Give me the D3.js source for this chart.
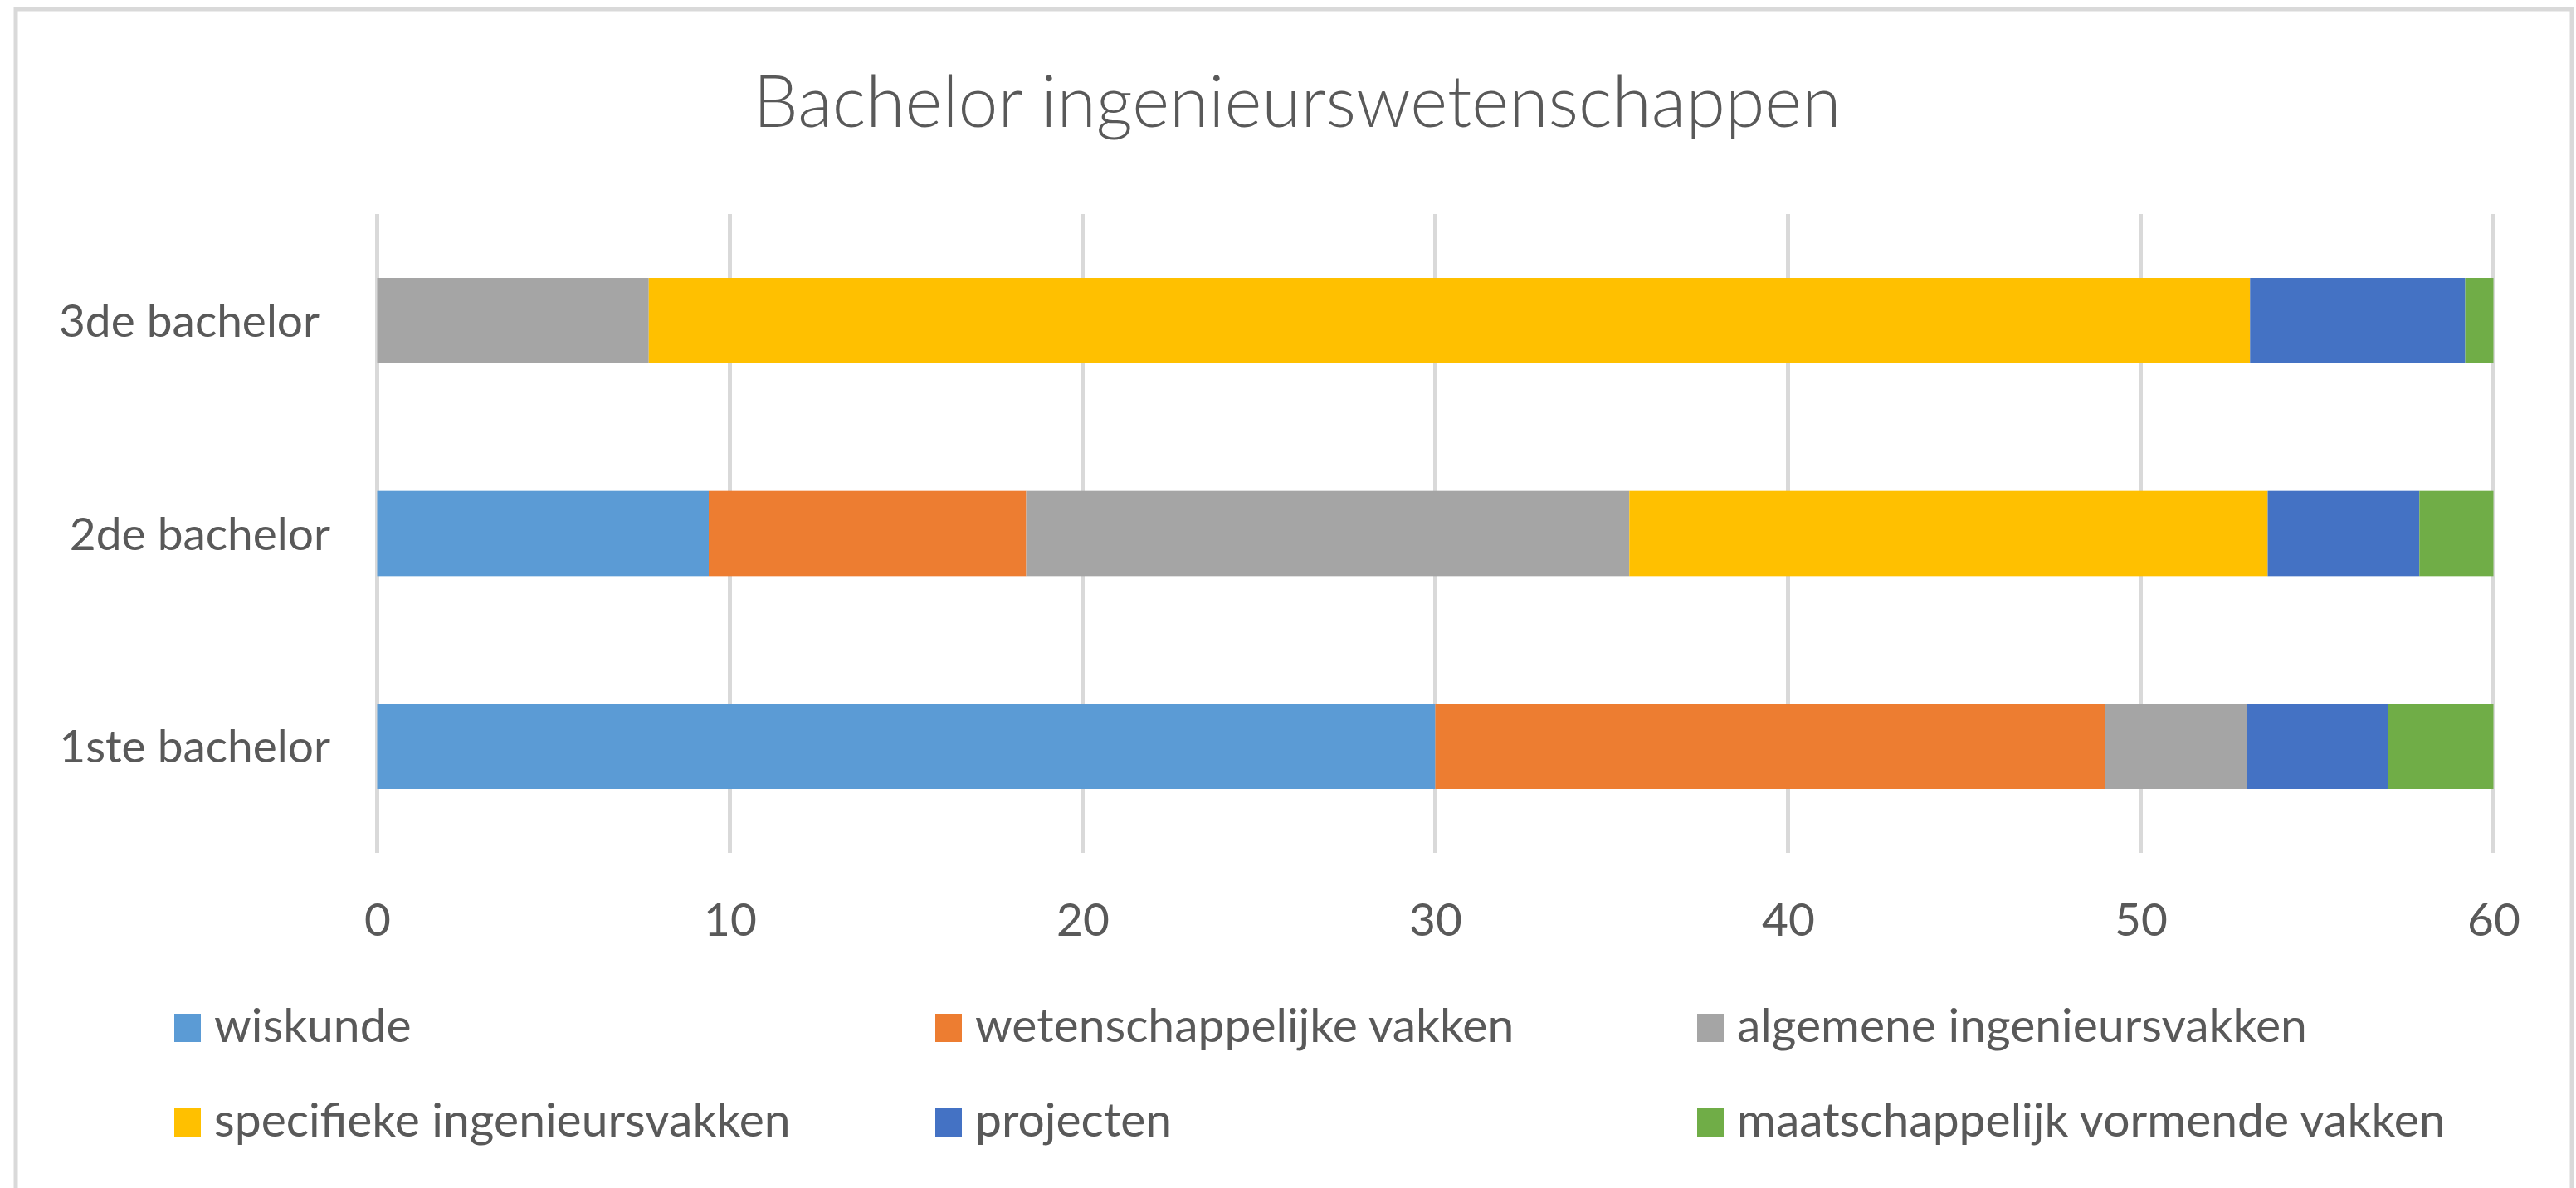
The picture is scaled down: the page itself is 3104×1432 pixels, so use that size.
<!DOCTYPE html>
<html>
<head>
<meta charset="utf-8">
<script src="https://cdn.jsdelivr.net/npm/d3@7"></script>
<style>
  body { margin: 0; background: #fff; }
  svg { display: block; }
  text { font-family: Lato, "Open Sans", sans-serif; fill: #595959; }
</style>
</head>
<body>
<script>
// categories, bottom to top as in the chart
const categories = ['1ste bachelor', '2de bachelor', '3de bachelor '];
const subjects = ['wiskunde', 'wetenschappelijke vakken', 'algemene ingenieursvakken',
                  'specifieke ingenieursvakken', 'projecten', 'maatschappelijk vormende vakken'];
const colors = ['#5B9BD5', '#ED7D31', '#A5A5A5', '#FFC000', '#4472C4', '#70AD47'];

// values per subject, one per category (1ste, 2de, 3de)
const wiskunde = [30, 9.4, 0];
const wetenschappelijk = [19, 9.0, 0];
const algemeen = [4, 17.1, 7.7];
const specifiek = [0, 18.1, 45.4];
const projecten = [4, 4.3, 6.1];
const maatschappelijk = [3, 2.1, 0.8];
const xTicks = [0, 10, 20, 30, 40, 50, 60];

const seriesValues = [wiskunde, wetenschappelijk, algemeen, specifiek, projecten, maatschappelijk];
const rows = categories.map((c, i) => {
    const r = {cat: c};
    subjects.forEach((s, j) => r[s] = seriesValues[j][i]);
    return r;
});

const width = 3104, height = 1432;
const svg = d3.select('body').append('svg')
    .attr('width', width)
    .attr('height', height);

// chart border
svg.append('rect')
    .attr('x', 19).attr('y', 11)
    .attr('width', 3080).attr('height', 1500)
    .attr('fill', 'none')
    .attr('stroke', '#d9d9d9')
    .attr('stroke-width', 5);

svg.append('text')
    .attr('x', 1563).attr('y', 153)
    .attr('text-anchor', 'middle')
    .style('font-size', '86px')
    .style('font-weight', 300)
    .text('Bachelor ingenieurswetenschappen');

const x = d3.scaleLinear().domain([0, 60]).range([454.5, 3004.5]);
const y = d3.scaleBand()
    .domain(categories.slice().reverse())
    .range([258, 1028])
    .paddingInner(0.6)
    .paddingOuter(0.3);

// gridlines
svg.append('g')
    .selectAll('line')
    .data(xTicks)
    .enter().append('line')
    .attr('x1', d => x(d)).attr('x2', d => x(d))
    .attr('y1', 258).attr('y2', 1028)
    .attr('stroke', '#d9d9d9')
    .attr('stroke-width', 5);

// tick labels via axis
const xAxis = svg.append('g')
    .attr('transform', 'translate(0,1070)')
    .call(d3.axisBottom(x).tickValues(xTicks).tickSize(0).tickPadding(0));
xAxis.select('.domain').remove();
xAxis.selectAll('text')
    .attr('dy', '1.05em')
    .style('font-size', '55px')
    .style('font-family', 'Lato, "Open Sans", sans-serif')
    .attr('fill', '#595959');

// stacked bars
const stack = d3.stack().keys(subjects)(rows);
svg.append('g')
    .selectAll('g')
    .data(stack)
    .enter().append('g')
    .attr('fill', (d, i) => colors[i])
    .selectAll('rect')
    .data(d => d)
    .enter().append('rect')
    .attr('x', d => x(d[0]))
    .attr('width', d => x(d[1]) - x(d[0]))
    .attr('y', d => y(d.data.cat))
    .attr('height', y.bandwidth());

// category labels
svg.append('g')
    .selectAll('text')
    .data(categories)
    .enter().append('text')
    .attr('x', 398)
    .attr('y', d => y(d) + y.bandwidth() / 2)
    .attr('dy', '0.36em')
    .attr('text-anchor', 'end')
    .style('white-space', 'pre')
    .style('font-size', '55px')
    .text(d => d);

// legend, 3 per row
const legendCols = [210, 1127, 2045];
const legendRows = [1256, 1370];
const legend = svg.append('g')
    .selectAll('g')
    .data(subjects)
    .enter().append('g')
    .attr('transform', (d, i) => `translate(${legendCols[i % 3]},${legendRows[Math.floor(i / 3)]})`);
legend.append('rect')
    .attr('x', 0).attr('y', -34)
    .attr('width', 32).attr('height', 34)
    .attr('fill', (d, i) => colors[i]);
legend.append('text')
    .attr('x', 48).attr('y', 0)
    .style('font-size', '57px')
    .text(d => d);
</script>
</body>
</html>
